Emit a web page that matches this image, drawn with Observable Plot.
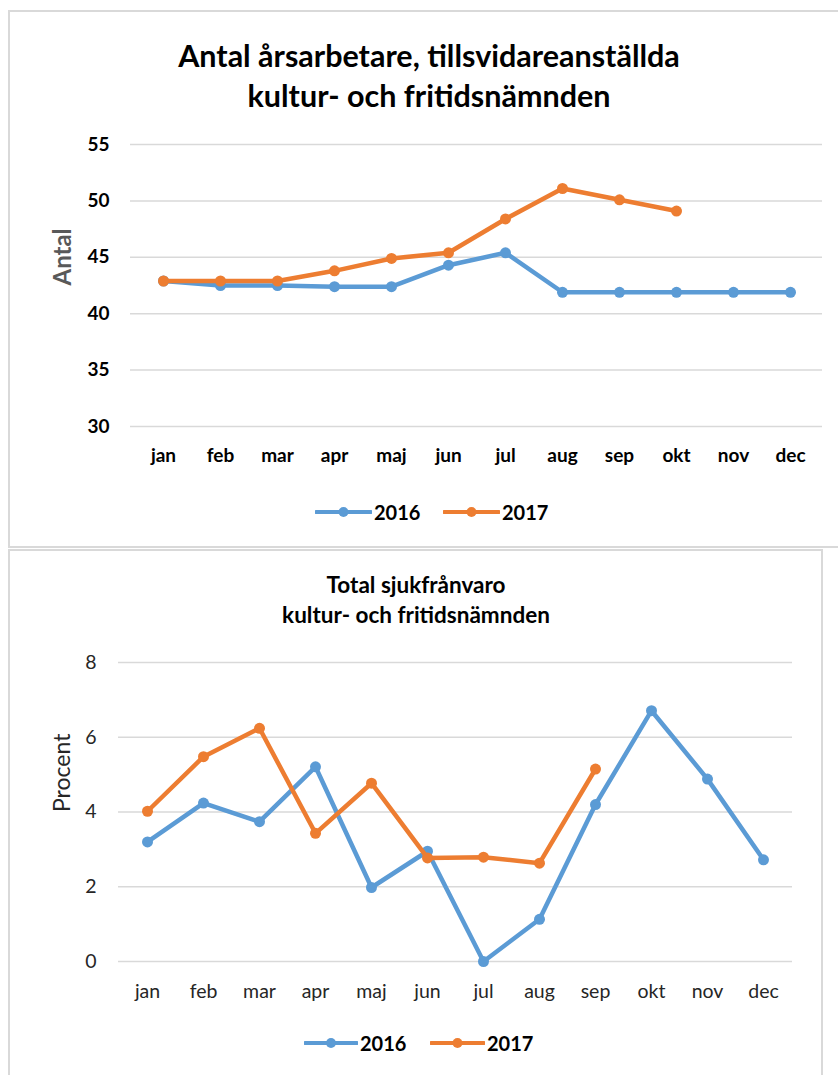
<!DOCTYPE html>
<html>
<head>
<meta charset="utf-8">
<script src="https://cdn.jsdelivr.net/npm/d3@7"></script>
<script src="https://cdn.jsdelivr.net/npm/@observablehq/plot@0.6"></script>
<style>
  html, body { margin: 0; padding: 0; background: #fff; }
  body { position: relative; width: 838px; height: 1075px; overflow: hidden; font-family: Lato, "Open Sans", sans-serif; }
  .panel { position: absolute; border: 2px solid #d9d9d9; box-sizing: border-box; }
  .title { position: absolute; text-align: center; font-weight: 700; color: #000; white-space: nowrap; }
  .chart { position: absolute; left: 0; }
  .leg { position: absolute; display: flex; align-items: center; font-weight: 700; color: #000; }
  .leg svg { display: block; }
</style>
</head>
<body>
<div class="panel" style="left:8px;top:10px;width:845px;height:538px"></div>
<div class="panel" style="left:8px;top:549px;width:815px;height:545px"></div>

<div class="title" style="left:0;width:858px;top:35px;font-size:30.5px;line-height:40px">Antal årsarbetare, tillsvidareanställda<br>kultur- och fritidsnämnden</div>
<div class="title" style="left:0;width:832px;top:570px;font-size:22.5px;line-height:30px">Total sjukfrånvaro<br>kultur- och fritidsnämnden</div>

<div id="chart1" class="chart" style="top:130px"></div>
<div id="chart2" class="chart" style="top:640px"></div>
<div id="legend1"></div>
<div id="legend2"></div>

<script>
const months = ["jan", "feb", "mar", "apr", "maj", "jun", "jul", "aug", "sep", "okt", "nov", "dec"];
const years = ["2016", "2017"];
const colors = ["#5b9bd5", "#ed7d31"];

// Chart 1: Antal årsarbetare
const antal2016 = [42.9, 42.5, 42.5, 42.4, 42.4, 44.3, 45.4, 41.9, 41.9, 41.9, 41.9, 41.9];
const antal2017 = [42.9, 42.9, 42.9, 43.8, 44.9, 45.4, 48.4, 51.1, 50.1, 49.1];
const antalTicks = [30, 35, 40, 45, 50, 55];

// Chart 2: Total sjukfrånvaro (procent)
const sjuk2016 = [3.2, 4.24, 3.74, 5.21, 1.98, 2.95, 0.0, 1.13, 4.2, 6.71, 4.88, 2.72];
const sjuk2017 = [4.02, 5.48, 6.24, 3.43, 4.77, 2.77, 2.79, 2.63, 5.15];
const sjukTicks = [0, 2, 4, 6, 8];

function toRows(arr, year) {
  return arr.map((v, i) => ({ month: months[i], year, value: v }));
}

function seriesMarks(rows, color, sw, r) {
  return [
    Plot.line(rows, { x: "month", y: "value", stroke: color, strokeWidth: sw, strokeLinejoin: "round", strokeLinecap: "round" }),
    Plot.dot(rows, { x: "month", y: "value", fill: color, r })
  ];
}

const c1 = Plot.plot({
  width: 838, height: 350,
  marginLeft: 130, marginRight: 16, marginTop: 14, marginBottom: 54,
  x: { type: "point", domain: months, padding: 0.5 },
  y: { domain: [30, 55] },
  style: { fontFamily: "Lato, sans-serif", fontSize: "19px", fontWeight: 700, color: "#000", background: "transparent" },
  marks: [
    Plot.ruleY(antalTicks, { stroke: "#d9d9d9", strokeWidth: 1.5 }),
    Plot.axisY({ ticks: antalTicks, tickSize: 0, tickPadding: 21, label: null }),
    Plot.axisX({ tickSize: 0, tickPadding: 22, label: null }),
    Plot.text(["Antal"], { text: d => d, frameAnchor: "left", dx: -67, rotate: -90, fill: "#595959", fontSize: 24, fontWeight: 700 }),
    ...seriesMarks(toRows(antal2016, "2016"), colors[0], 4.5, 5.5),
    ...seriesMarks(toRows(antal2017, "2017"), colors[1], 4.5, 5.5)
  ]
});
document.getElementById("chart1").appendChild(c1);

const c2 = Plot.plot({
  width: 838, height: 400,
  marginLeft: 118, marginRight: 46, marginTop: 22, marginBottom: 79,
  x: { type: "point", domain: months, padding: 0.5 },
  y: { domain: [0, 8] },
  style: { fontFamily: "Lato, sans-serif", fontSize: "19.5px", fontWeight: 400, color: "#262626", background: "transparent" },
  marks: [
    Plot.ruleY(sjukTicks, { stroke: "#d9d9d9", strokeWidth: 1.5 }),
    Plot.axisY({ ticks: sjukTicks, tickSize: 0, tickPadding: 22, label: null }),
    Plot.axisX({ tickSize: 0, tickPadding: 23, label: null }),
    Plot.text(["Procent"], { text: d => d, frameAnchor: "left", dx: -56, rotate: -90, fill: "#262626", fontSize: 23 }),
    ...seriesMarks(toRows(sjuk2016, "2016"), colors[0], 4.5, 5.5),
    ...seriesMarks(toRows(sjuk2017, "2017"), colors[1], 4.5, 5.5)
  ]
});
document.getElementById("chart2").appendChild(c2);

function legend(el, items) {
  items.forEach(it => {
    const d = document.createElement("div");
    d.className = "leg";
    d.style.left = it.x + "px";
    d.style.top = (it.y - 14) + "px";
    d.style.height = "28px";
    d.style.fontSize = "20px";
    const w = it.w;
    d.innerHTML = `<svg width="${w}" height="14"><line x1="1" y1="7" x2="${w - 1}" y2="7" stroke="${it.color}" stroke-width="4" stroke-linecap="round"/><circle cx="${w / 2}" cy="7" r="5" fill="${it.color}"/></svg><span style="margin-left:2px">${it.label}</span>`;
    el.appendChild(d);
  });
}
legend(document.getElementById("legend1"), [
  { x: 315, y: 512, w: 57, color: colors[0], label: years[0] },
  { x: 443, y: 512, w: 57, color: colors[1], label: years[1] }
]);
legend(document.getElementById("legend2"), [
  { x: 304, y: 1043, w: 54, color: colors[0], label: years[0] },
  { x: 430, y: 1043, w: 55, color: colors[1], label: years[1] }
]);
</script>
</body>
</html>
